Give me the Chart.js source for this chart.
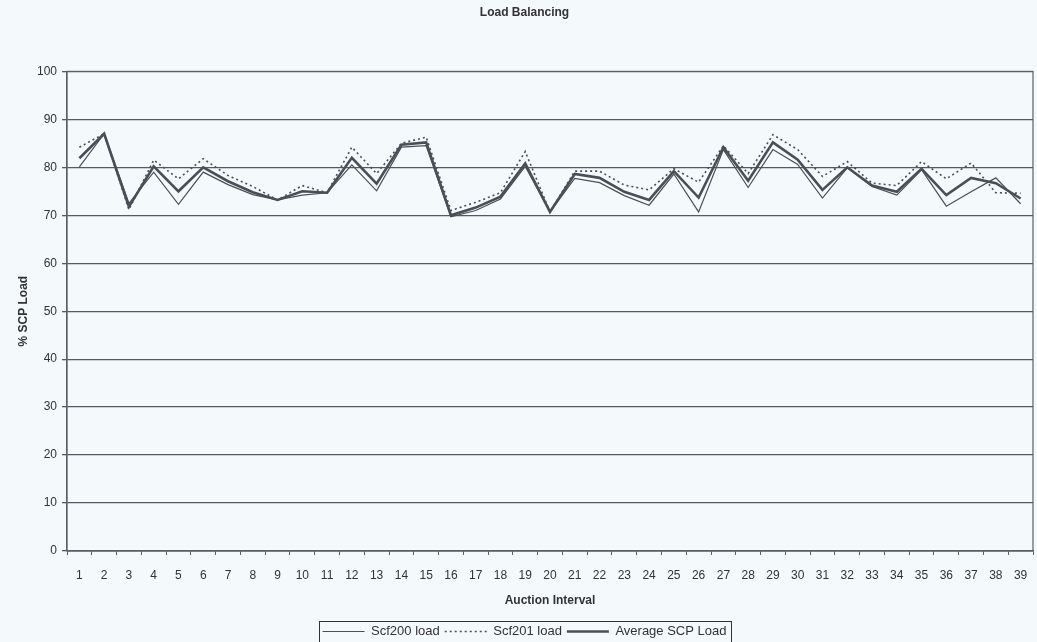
<!DOCTYPE html>
<html>
<head>
<meta charset="utf-8">
<script src="https://cdn.jsdelivr.net/npm/chart.js@4.4.1/dist/chart.umd.min.js"></script>
<style>
  html, body { margin: 0; padding: 0; background: #f4f9fc; }
  #wrap { width: 1037px; height: 642px; position: relative; }
</style>
</head>
<body>
<div id="wrap"><canvas id="c" width="1037" height="642"></canvas></div>
<script>
const categories = ["1","2","3","4","5","6","7","8","9","10","11","12","13","14","15","16","17","18","19","20",
  "21","22","23","24","25","26","27","28","29","30","31","32","33","34","35","36","37","38","39"];
const scf200 = [80.1, 87.0, 72.5, 79.0, 72.3, 79.0, 76.4, 74.3, 73.2, 74.2, 74.7, 80.5, 75.1, 84.2, 84.5, 69.7, 71.0, 73.4, 80.2, 70.7,
  77.7, 76.8, 74.1, 72.1, 78.6, 70.7, 83.7, 75.8, 83.7, 80.6, 73.6, 79.9, 76.0, 74.2, 79.5, 71.9, 74.9, 77.8, 72.4];
const scf201 = [84.2, 87.0, 71.2, 81.5, 77.6, 81.8, 78.3, 76.0, 73.2, 76.2, 74.7, 84.2, 78.7, 85.0, 86.3, 71.0, 72.7, 74.7, 83.3, 70.7,
  79.2, 79.2, 76.3, 75.3, 79.7, 76.9, 84.5, 78.7, 86.8, 83.7, 78.1, 81.2, 76.7, 76.2, 81.2, 77.6, 80.9, 74.7, 74.6];
const avgLoad = [81.9, 87.0, 71.8, 80.2, 75.0, 80.0, 77.1, 74.8, 73.2, 75.0, 74.7, 82.0, 76.6, 84.7, 85.2, 70.0, 71.6, 73.9, 80.8, 70.7,
  78.6, 77.8, 74.9, 73.2, 79.2, 73.7, 84.2, 77.2, 85.2, 81.6, 75.3, 80.0, 76.2, 74.9, 79.7, 74.2, 77.8, 76.7, 73.5];
const yTicks = [0, 10, 20, 30, 40, 50, 60, 70, 80, 90, 100];

const ink = '#4a4f57';
const FONT = '"Liberation Sans", Arial, sans-serif';

const bgPlugin = {
  id: 'bg',
  beforeDraw(chart) {
    const ctx = chart.ctx;
    ctx.save();
    ctx.fillStyle = '#f4f9fc';
    ctx.fillRect(0, 0, chart.width, chart.height);
    ctx.restore();
  },
  afterDraw(chart) {
    const ctx = chart.ctx;
    const a = chart.chartArea;
    ctx.save();
    ctx.strokeStyle = '#5a5f66';
    ctx.lineWidth = 1.2;
    ctx.strokeRect(a.left, a.top, a.right - a.left, a.bottom - a.top);
    const lg = chart.legend;
    if (lg && lg.legendHitBoxes && lg.legendHitBoxes.length) {
      const hb = lg.legendHitBoxes;
      const x0 = hb[0].left - 4;
      const last = hb[hb.length - 1];
      const x1 = last.left + last.width + 4;
      const y0 = hb[0].top - 4;
      const y1 = hb[0].top + hb[0].height + 4;
      ctx.strokeStyle = '#333';
      ctx.lineWidth = 1;
      ctx.strokeRect(Math.round(x0) + 0.5, Math.round(y0) + 0.5, Math.round(x1 - x0), Math.round(y1 - y0));
    }
    ctx.restore();
  }
};

new Chart(document.getElementById('c'), {
  type: 'line',
  data: {
    labels: categories,
    datasets: [
      { label: 'Scf200 load', data: scf200, borderColor: ink, backgroundColor: ink, borderWidth: 1.2,
        pointRadius: 0, pointStyle: 'line', tension: 0 },
      { label: 'Scf201 load', data: scf201, borderColor: ink, backgroundColor: ink, borderWidth: 1.6,
        borderDash: [2, 3], pointRadius: 0, pointStyle: 'line', tension: 0 },
      { label: 'Average SCP Load', data: avgLoad, borderColor: ink, backgroundColor: ink, borderWidth: 2.6,
        pointRadius: 0, pointStyle: 'line', tension: 0 }
    ]
  },
  options: {
    responsive: false,
    animation: false,
    devicePixelRatio: 1,
    layout: { padding: { left: 16, right: 4, top: 0, bottom: -6 } },
    plugins: {
      title: {
        display: true,
        text: 'Load Balancing',
        color: '#333',
        font: { family: FONT, size: 12, weight: 'bold' },
        padding: { top: 5, bottom: 52 }
      },
      legend: {
        display: true,
        position: 'bottom',
        labels: {
          usePointStyle: true,
          pointStyleWidth: 42,
          boxHeight: 6,
          color: '#333',
          padding: 5,
          font: { family: FONT, size: 13 },
          generateLabels(chart) {
            return chart.data.datasets.map((ds, i) => ({
              text: ds.label,
              datasetIndex: i,
              fillStyle: ds.borderColor,
              strokeStyle: ds.borderColor,
              fontColor: '#333',
              lineWidth: ds.borderWidth,
              lineDash: ds.borderDash || [],
              lineCap: 'butt',
              pointStyle: 'line',
              hidden: false
            }));
          }
        }
      },
      tooltip: { enabled: false }
    },
    scales: {
      x: {
        offset: true,
        grid: { display: true, offset: true, drawOnChartArea: false, drawTicks: true, tickLength: 4, color: '#5a5f66', lineWidth: 1 },
        border: { display: true, color: '#5a5f66', width: 1.2 },
        ticks: { color: '#333', font: { family: FONT, size: 12 }, maxRotation: 0, autoSkip: false, padding: 13 },
        title: { display: true, text: 'Auction Interval', color: '#333', font: { family: FONT, size: 12, weight: 'bold' }, padding: { top: 4, bottom: 12 } },
        afterFit(scale) { scale.height = 69; scale.paddingLeft = 0; scale.paddingRight = 0; }
      },
      y: {
        min: 0, max: 100,
        afterBuildTicks(scale) { scale.ticks = yTicks.map(v => ({ value: v })); },
        grid: { color: '#555a61', lineWidth: 1.3, tickLength: 5, drawTicks: true },
        border: { display: true, color: '#5a5f66', width: 1.2 },
        ticks: { color: '#333', font: { family: FONT, size: 12 }, padding: 5 },
        title: { display: true, text: '% SCP Load', color: '#333', font: { family: FONT, size: 12, weight: 'bold' }, padding: { top: 0, bottom: 4 } },
        afterFit(scale) { scale.width = 51; }
      }
    }
  },
  plugins: [bgPlugin]
});
</script>
</body>
</html>
